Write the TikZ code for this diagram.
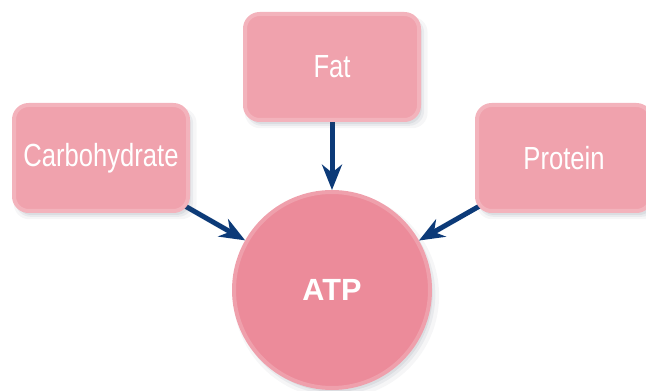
\documentclass[tikz,border=0pt]{standalone}
\usepackage{fontspec}
\usepackage{xcolor}
\usetikzlibrary{arrows.meta}
\usetikzlibrary{shadows}
\usetikzlibrary{backgrounds}
\newfontfamily\sourcefont{Liberation Sans}[FakeStretch=0.8]
\newfontfamily\atpfont{Liberation Sans}
\definecolor{boxpink}{RGB}{240,162,173}
\definecolor{atppink}{RGB}{236,139,154}
\definecolor{feedblue}{RGB}{12,58,120}
\definecolor{shade}{RGB}{70,80,100}

\tikzset{
	softshadow/.style={
		general shadow={shadow xshift=3pt, shadow yshift=-4pt, fill=shade, opacity=0.05, shadow scale=1.05},
		general shadow={shadow xshift=2.5pt, shadow yshift=-3.5pt, fill=shade, opacity=0.07, shadow scale=1.02},
		general shadow={shadow xshift=2pt, shadow yshift=-3pt, fill=shade, opacity=0.09},
		general shadow={shadow xshift=1.5pt, shadow yshift=-2pt, fill=shade, opacity=0.09, shadow scale=0.98}},
	source/.style={rectangle, rounded corners=11pt, minimum width=130.5pt, minimum height=79.5pt,
		fill=boxpink, draw=boxpink!82!white, line width=3pt, text=white,
		font=\sourcefont\fontsize{24}{24}\selectfont, softshadow},
	product/.style={circle, minimum size=147pt, inner sep=0pt,
		fill=atppink, draw=atppink!82!white, line width=3pt, text=white,
		font=\atpfont\bfseries\fontsize{23}{23}\selectfont, softshadow},
	feed/.style={draw=feedblue, line width=3.75pt,
		-{Stealth[length=19pt,width=15pt,inset=6pt]}}
}

\begin{document}
\begin{tikzpicture}[x=0.75pt,y=-0.75pt]
	\useasboundingbox (0,0) rectangle (646,391);
	\clip (0,0) rectangle (646,391);

	%sources and product
	\node[source] (carb) at (101,158) {Carbohydrate};
	\node[source] (fat) at (332,67) {Fat};
	\node[source] (protein) at (564,158) {Protein};
	\node[product] (atp) at (332,290) {ATP};

	%arrows into ATP
	\begin{scope}[on background layer]
		\draw[feed] (carb.center) -- (atp);
		\draw[feed] (fat.center) -- (atp);
		\draw[feed] (protein.center) -- (atp);
	\end{scope}
\end{tikzpicture}
\end{document}
